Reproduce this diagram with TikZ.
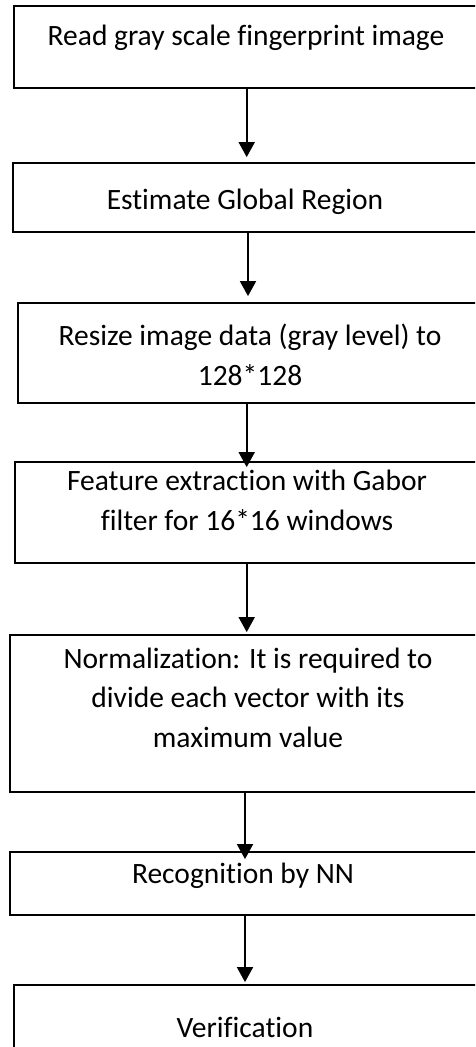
\documentclass[tikz,border=0pt]{standalone}
\usepackage{fontspec}
\setmainfont[Ligatures=NoCommon]{Carlito}
\usetikzlibrary{arrows.meta}
\begin{document}
\begin{tikzpicture}[x=1pt,y=-1pt,
  box/.style={draw=black,line width=1.8pt,inner sep=0pt,rectangle},
  txt/.style={inner sep=0pt,align=center,font=\fontsize{29.5}{39.3}\selectfont},
  arr/.style={line width=1.8pt,-{Triangle[width=16pt,length=15pt]}}]
\useasboundingbox (0,0) rectangle (475,1047);
\clip (0,0) rectangle (475,1047);
% boxes
\node[box,minimum width=466pt,minimum height=82pt]  (b1) at (247,47) {};
\node[box,minimum width=467pt,minimum height=69pt]  (b2) at (246.5,197.5) {};
\node[box,minimum width=462pt,minimum height=100pt] (b3) at (249,353) {};
\node[box,minimum width=465pt,minimum height=101pt] (b4) at (247.5,512.5) {};
\node[box,minimum width=470pt,minimum height=157pt] (b5) at (245,713.5) {};
\node[box,minimum width=470pt,minimum height=63pt]  (b6) at (245,883.5) {};
\node[box,minimum width=466pt,minimum height=80pt]  (b7) at (247,1025) {};
% texts (anchor = baseline of last line)
\node[txt,anchor=base] (t1) at (246,45) {Read gray scale fingerprint image};
\node[txt,anchor=base] (t2) at (245,209) {Estimate Global Region};
\node[txt,anchor=base] (t3) at (250,385) {Resize image data (gray level) to\\128*128};
\node[txt,anchor=base] (t4) at (247,530) {Feature extraction with Gabor\\filter for 16*16 windows};
\node[txt,anchor=base] (t5) at (248,747) {Normalization: It is required to\\divide each vector with its\\maximum value};
\node[txt,anchor=base] (t6) at (243,883) {Recognition by NN};
\node[txt,anchor=base] (t7) at (245,1037) {Verification};
% arrow columns
\coordinate (x1) at (246.7,0);
\coordinate (x2) at (248,0);
\coordinate (x3) at (246.7,0);
\coordinate (x4) at (246.7,0);
\coordinate (x5) at (245,0);
\coordinate (x6) at (245,0);
\draw[arr,shorten >=5pt] (b1.south -| x1) -- (b2.north -| x1);
\draw[arr,shorten >=6pt] (b2.south -| x2) -- (b3.north -| x2);
\draw[arr,shorten >=-6pt] (b3.south -| x3) -- (b4.north -| x3);
\draw[arr,shorten >=2pt] (b4.south -| x4) -- (b5.north -| x4);
\draw[arr,shorten >=-8pt] (b5.south -| x5) -- (b6.north -| x5);
\draw[arr,shorten >=2pt] (b6.south -| x6) -- (b7.north -| x6);
\end{tikzpicture}
\end{document}
